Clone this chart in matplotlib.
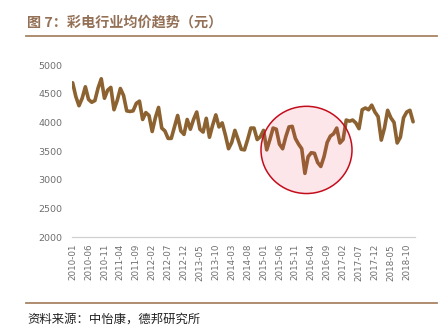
import numpy as np
import matplotlib
matplotlib.use("Agg")
import matplotlib.pyplot as plt
from matplotlib.patches import Ellipse
from matplotlib.lines import Line2D

plt.rcParams["font.family"] = ["Noto Sans CJK SC", "DejaVu Sans"]

# ================================================================
# Data: monthly average TV price (yuan), 2010-01 .. 2018-12
# ================================================================

months = [f"{y}-{m:02d}" for y in range(2010, 2019) for m in range(1, 13)]

avg_price = [
    4690, 4450, 4290, 4420, 4620, 4400, 4350, 4380, 4600, 4760, 4420, 4560,
    4610, 4220, 4380, 4590, 4470, 4200, 4190, 4200, 4330, 4370, 4050, 4170,
    4120, 3840, 4080, 4260, 3900, 3850, 3720, 3720, 3920, 4120, 3850, 3790,
    4050, 3880, 4050, 4180, 3880, 3830, 4070, 3740, 3950, 4130, 3920, 3990,
    3780, 3540, 3650, 3860, 3700, 3530, 3520, 3700, 3900, 3900, 3700, 3750,
    3860, 3520, 3700, 3900, 3880, 3620, 3540, 3750, 3920, 3930, 3720, 3620,
    3540, 3110, 3400, 3470, 3460, 3300, 3230, 3400, 3650, 3760, 3800, 3900,
    3640, 3700, 4040, 4020, 4040, 3990, 3890, 4220, 4250, 4220, 4300, 4180,
    4100, 3690, 3900, 4210, 4080, 4000, 3640, 3740, 4080, 4180, 4210, 4010,
]

yticks = [2000, 2500, 3000, 3500, 4000, 4500, 5000]
tick_every = 5

title_text = "图 7：彩电行业均价趋势（元）"
source_text = "资料来源：中怡康，德邦研究所"

LINE_COLOR = "#8c6231"
RULE_COLOR = "#a88364"
TEXT_GRAY = "#6e6e6e"

# ================================================================
# Plot
# ================================================================

fig = plt.figure(figsize=(4.45, 3.32), dpi=100, facecolor="white")
ax = fig.add_axes([0.1618, 0.2861, 0.7708, 0.5181])

x = np.arange(len(avg_price))
ax.plot(x, avg_price, color=LINE_COLOR, linewidth=2.6,
        solid_joinstyle="round", solid_capstyle="round", zorder=2)

# highlight of the 2015-2016 dip
ell = Ellipse((73.5, 3519), width=28.6, height=1521,
              facecolor=(0.97, 0.25, 0.35, 0.13), edgecolor="#c40d1c",
              linewidth=1.1, zorder=3)
ax.add_patch(ell)

ax.set_xlim(-0.2, 107.6)
ax.set_ylim(2000, 5000)
ax.set_yticks(yticks)
ax.set_yticklabels([str(v) for v in yticks], color=TEXT_GRAY, fontsize=6.8,
                   family="DejaVu Sans")
tick_pos = x[::tick_every]
ax.set_xticks(tick_pos)
ax.set_xticklabels([months[i] for i in tick_pos], rotation=90,
                   color=TEXT_GRAY, fontsize=6.3, family="DejaVu Sans")
ax.tick_params(length=0, pad=7)
ax.tick_params(axis="x", pad=5)

for side in ["left", "right", "top"]:
    ax.spines[side].set_visible(False)
ax.spines["bottom"].set_color("#d0d0d0")
ax.spines["bottom"].set_linewidth(0.9)

# title + rules
fig.text(0.061, 0.933, title_text, color="#947156", fontsize=10.2,
         fontweight="bold", va="center", ha="left")
fig.add_artist(Line2D([0.058, 0.983], [0.891, 0.891], color=RULE_COLOR,
                      linewidth=1.3, transform=fig.transFigure))
fig.add_artist(Line2D([0.058, 0.983], [0.088, 0.088], color=RULE_COLOR,
                      linewidth=1.3, transform=fig.transFigure))
fig.text(0.061, 0.040, source_text, color="#222222", fontsize=8.9,
         va="center", ha="left")

fig.savefig("out.png", dpi=100, facecolor="white")
